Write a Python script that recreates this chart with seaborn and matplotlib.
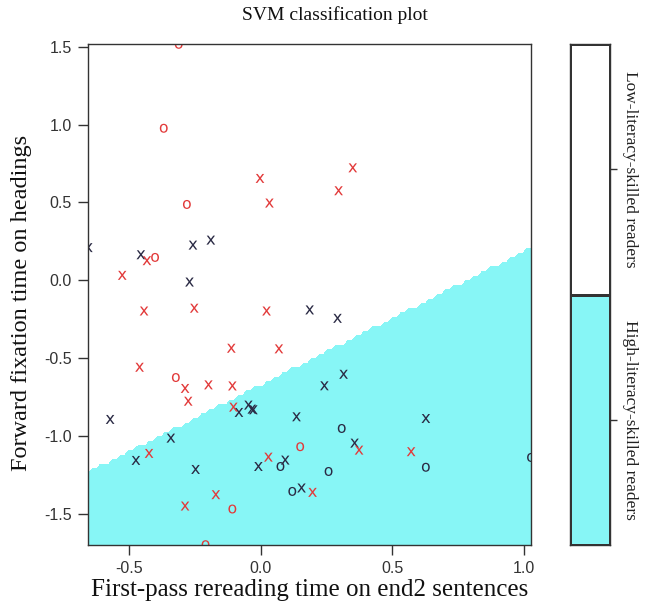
import numpy as np
import pandas as pd
import matplotlib
matplotlib.use("Agg")
import matplotlib.pyplot as plt
from matplotlib.colors import ListedColormap
import seaborn as sns

# points: (x, y) per class and symbol
low_sv_x = [-0.656, -0.258, -0.190, -0.456, -0.271, 0.186, 0.292, -0.047, -0.083,
            -0.034, -0.028, -0.573, 0.136, -0.342, -0.475, -0.248, -0.009, 0.093,
            0.155, 0.315, 0.242, 0.628, 0.357]
low_sv_y = [0.210, 0.226, 0.258, 0.164, -0.011, -0.190, -0.244, -0.801, -0.848,
            -0.827, -0.831, -0.893, -0.876, -1.013, -1.156, -1.214, -1.195, -1.154,
            -1.333, -0.603, -0.677, -0.887, -1.045]
low_o_x = [0.075, 0.120, 0.308, 0.628, 1.028, 0.258]
low_o_y = [-1.195, -1.355, -0.951, -1.200, -1.137, -1.227]
high_sv_x = [-0.003, 0.033, -0.433, -0.527, 0.350, 0.296, -0.444, -0.253, 0.022,
             -0.112, 0.069, -0.461, -0.288, -0.199, -0.108, -0.276, -0.104, -0.425,
             0.029, -0.171, -0.288, 0.374, 0.572, 0.197]
high_sv_y = [0.654, 0.496, 0.126, 0.032, 0.722, 0.575, -0.197, -0.179, -0.197,
             -0.436, -0.440, -0.558, -0.694, -0.671, -0.678, -0.776, -0.814, -1.111,
             -1.135, -1.376, -1.449, -1.090, -1.100, -1.361]
high_o_x = [-0.312, -0.369, -0.281, -0.402, -0.323, 0.150, -0.108, -0.210]
high_o_y = [1.515, 0.976, 0.487, 0.147, -0.624, -1.068, -1.468, -1.697]

# decision boundary: y value at left and right end of the x range
boundary_y = [-1.235, 0.205]
class_labels = ["Low-literacy-skilled readers", "High-literacy-skilled readers"]

df = pd.concat([
    pd.DataFrame({"x": low_sv_x, "y": low_sv_y, "cls": "a", "sym": "x"}),
    pd.DataFrame({"x": low_o_x, "y": low_o_y, "cls": "a", "sym": "o"}),
    pd.DataFrame({"x": high_sv_x, "y": high_sv_y, "cls": "b", "sym": "x"}),
    pd.DataFrame({"x": high_o_x, "y": high_o_y, "cls": "b", "sym": "o"}),
], ignore_index=True)

sns.set_style("white")
plt.rcParams["font.family"] = ["Liberation Sans", "DejaVu Sans"]
serif = ["Liberation Serif", "DejaVu Serif"]
fill_col = "#87F6F6"
frame = "#333333"

fig = plt.figure(figsize=(6.46, 6.10), dpi=100)
ax = fig.add_axes([88.3 / 646, 1 - 544.7 / 610, 442.7 / 646, 500.4 / 610])
cax = fig.add_axes([570 / 646, 1 - 544.7 / 610, 40 / 646, 500.4 / 610])

xmin, xmax = df.x.min(), df.x.max()
ymin, ymax = df.y.min(), df.y.max()

# fine class grid -> small steps along the boundary
gx = np.linspace(xmin, xmax, 110)
gy = np.linspace(ymin, ymax, 110)
GX, GY = np.meshgrid(gx, gy)
line = boundary_y[0] + (boundary_y[1] - boundary_y[0]) * (GX - xmin) / (xmax - xmin)
Z = (GY < line).astype(float)
ax.contourf(GX, GY, Z, levels=[-0.5, 0.5, 1.5], colors=["white", fill_col])

sns.scatterplot(data=df, x="x", y="y", hue="cls", style="sym",
                palette={"a": "#2a2a44", "b": "#E23A3A"},
                markers={"x": "$\\mathsf{x}$", "o": "$\\mathsf{o}$"},
                s=42, linewidth=0, legend=False, ax=ax)

ax.set_xlim(xmin, xmax)
ax.set_ylim(ymin, ymax)
ax.set_xticks([-0.5, 0.0, 0.5, 1.0])
ax.set_yticks([-1.5, -1.0, -0.5, 0.0, 0.5, 1.0, 1.5])
ax.xaxis.set_major_formatter(matplotlib.ticker.FormatStrFormatter("%.1f"))
ax.yaxis.set_major_formatter(matplotlib.ticker.FormatStrFormatter("%.1f"))
ax.tick_params(axis="both", direction="out", length=7, width=1, color=frame,
               labelsize=11.5, labelcolor="#333333", pad=5,
               bottom=True, left=True)
ax.set_xlabel("First-pass rereading time on end2 sentences", family=serif,
              fontsize=18, color="#111111", labelpad=2)
ax.set_ylabel("Forward fixation time on headings", family=serif,
              fontsize=17.5, color="#111111")
ax.yaxis.set_label_coords(-0.127, 0.483)
for sp in ax.spines.values():
    sp.set_color(frame)
    sp.set_linewidth(1)

# key on the right
cax.pcolormesh([0, 1], [0, 1, 2], [[1], [0]],
               cmap=ListedColormap(["white", fill_col]),
               edgecolors=frame, linewidth=0.8)
cax.set_xlim(0, 1)
cax.set_ylim(0, 2)
cax.set_xticks([])
cax.set_yticks([1.5, 0.5])
cax.set_yticklabels(class_labels, rotation=-90, va="center", family=serif,
                    fontsize=12.5, color="#222222")
cax.yaxis.tick_right()
cax.tick_params(axis="y", direction="out", length=5, width=1, color=frame,
                pad=4, right=True, left=False)
for sp in cax.spines.values():
    sp.set_color(frame)
    sp.set_linewidth(1)

fig.text(335 / 646, 1 - 15 / 610, "SVM classification plot", family=serif,
         fontsize=14, ha="center", va="center", color="#111111")

fig.savefig("out.png", dpi=100)
